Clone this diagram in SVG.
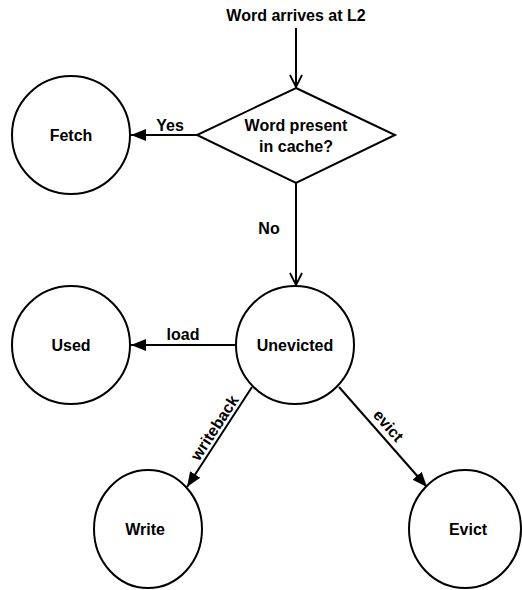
<svg xmlns="http://www.w3.org/2000/svg" width="522" height="590" viewBox="0 0 522 590">
<style>
.n{fill:#fff;stroke:#000;stroke-width:2}
.t{font-family:"Liberation Sans",Arial,sans-serif;font-weight:bold;font-size:16px;fill:#000;text-anchor:middle}
.e{fill:none;stroke:#000;stroke-width:2}
</style>
<defs>
<marker id="fa" markerUnits="userSpaceOnUse" markerWidth="16" markerHeight="14" refX="15" refY="7" orient="auto">
<path d="M0,1 L15,7 L0,13 Z" fill="#000"/>
</marker>
<marker id="oa" markerUnits="userSpaceOnUse" markerWidth="16" markerHeight="16" refX="13" refY="8" orient="auto">
<path d="M1,2 L13,8 L1,14" fill="none" stroke="#000" stroke-width="1.8"/>
</marker>
</defs>
<g id="edges">
<path class="e" d="M296,28 L296,87" marker-end="url(#oa)"/>
<path class="e" d="M197,135 L131,135" marker-end="url(#fa)"/>
<path class="e" d="M296,183 L296,285" marker-end="url(#oa)"/>
<path class="e" d="M236,345 L131,345" marker-end="url(#fa)"/>
<path class="e" d="M252,387 L187,487" marker-end="url(#fa)"/>
<path class="e" d="M339,387 L427,487" marker-end="url(#fa)"/>
<text class="t" x="170" y="131">Yes</text>
<text class="t" x="269" y="234">No</text>
<text class="t" x="183" y="340">load</text>
<text class="t" transform="translate(215,428) rotate(-57)" y="5">writeback</text>
<text class="t" transform="translate(388,426) rotate(49)" y="5">evict</text>
</g>
<g id="start"><text class="t" x="296" y="21">Word arrives at L2</text></g>
<g id="decision">
<polygon class="n" points="296,88 395,135 296,183 197,135"/>
<text class="t" x="296" y="131">Word present</text>
<text class="t" x="296" y="152">in cache?</text>
</g>
<g id="fetch"><circle class="n" cx="71" cy="135" r="59"/><text class="t" x="71" y="141">Fetch</text></g>
<g id="unevicted"><circle class="n" cx="295" cy="345" r="59"/><text class="t" x="295" y="351">Unevicted</text></g>
<g id="used"><circle class="n" cx="71" cy="345" r="59"/><text class="t" x="71" y="351">Used</text></g>
<g id="write"><ellipse class="n" cx="148" cy="529" rx="54" ry="59"/><text class="t" x="145" y="535">Write</text></g>
<g id="evict"><ellipse class="n" cx="465" cy="529" rx="56" ry="59"/><text class="t" x="468" y="535">Evict</text></g>
</svg>
